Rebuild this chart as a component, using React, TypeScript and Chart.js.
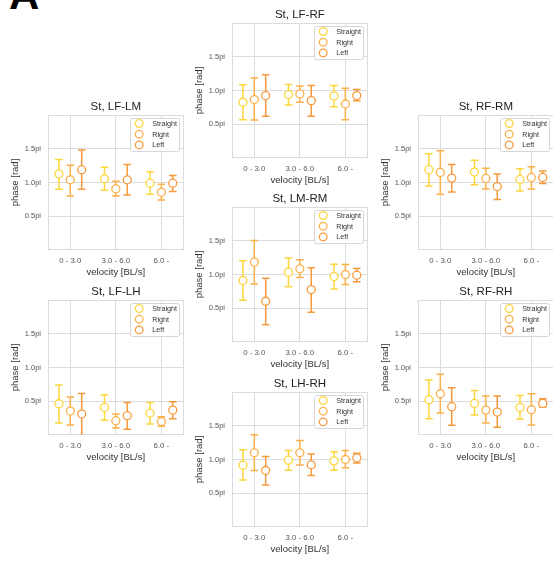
import React, { useEffect, useRef } from "react";
import { Chart, registerables } from "chart.js";

Chart.register(...registerables);

const CATEGORIES = ["0 - 3.0", "3.0 - 6.0", "6.0 -"];
const SERIES = ["Straight", "Right", "Left"];
const COLORS = ["#fdd63c", "#fcb04a", "#f79a3e"];
const Y_TICKS = [0.5, 1.0, 1.5];
const Y_TICK_LABELS = ["0.5pi", "1.0pi", "1.5pi"];
const DODGE = [-0.25, 0, 0.25];

// rows: Straight, Right, Left ; columns: velocity categories (units of pi)
const LF_LM_MEAN = [[1.125, 1.055, 0.99], [1.04, 0.905, 0.855], [1.19, 1.04, 0.99]];
const LF_LM_LO = [[0.9, 0.885, 0.825], [0.8, 0.8, 0.74], [0.9, 0.815, 0.865]];
const LF_LM_HI = [[1.34, 1.225, 1.16], [1.255, 1.02, 0.975], [1.48, 1.265, 1.105]];

const LF_RF_MEAN = [[0.826, 0.94, 0.92], [0.866, 0.95, 0.8], [0.925, 0.85, 0.925]];
const LF_RF_LO = [[0.567, 0.786, 0.76], [0.562, 0.826, 0.567], [0.617, 0.617, 0.85]];
const LF_RF_HI = [[1.085, 1.09, 1.075], [1.184, 1.065, 1.035], [1.234, 1.075, 1.015]];

const RF_RM_MEAN = [[1.19, 1.155, 1.045], [1.15, 1.06, 1.075], [1.065, 0.94, 1.075]];
const RF_RM_LO = [[0.95, 0.965, 0.875], [0.825, 0.905, 0.905], [0.86, 0.75, 0.985]];
const RF_RM_HI = [[1.425, 1.33, 1.205], [1.47, 1.21, 1.235], [1.265, 1.125, 1.17]];

const LF_LH_MEAN = [[0.463, 0.409, 0.325], [0.355, 0.212, 0.2], [0.31, 0.286, 0.37]];
const LF_LH_LO = [[0.177, 0.217, 0.163], [0.148, 0.103, 0.128], [-0.05, 0.084, 0.241]];
const LF_LH_HI = [[0.739, 0.596, 0.483], [0.562, 0.31, 0.27], [0.616, 0.483, 0.493]];

const LM_RM_MEAN = [[0.911, 1.035, 0.97], [1.183, 1.084, 1.0], [0.604, 0.777, 0.99]];
const LM_RM_LO = [[0.619, 0.817, 0.787], [0.861, 0.955, 0.851], [0.257, 0.44, 0.891]];
const LM_RM_HI = [[1.203, 1.243, 1.153], [1.505, 1.218, 1.149], [0.946, 1.099, 1.089]];

const RF_RH_MEAN = [[0.522, 0.468, 0.409], [0.611, 0.369, 0.374], [0.419, 0.34, 0.468]];
const RF_RH_LO = [[0.241, 0.296, 0.236], [0.325, 0.177, 0.148], [0.143, 0.113, 0.414]];
const RF_RH_HI = [[0.813, 0.66, 0.586], [0.9, 0.576, 0.61], [0.7, 0.576, 0.537]];

const LH_RH_MEAN = [[0.916, 0.99, 0.98], [1.099, 1.099, 1.0], [0.837, 0.921, 1.025]];
const LH_RH_LO = [[0.698, 0.842, 0.842], [0.837, 0.92, 0.876], [0.624, 0.762, 0.95]];
const LH_RH_HI = [[1.144, 1.134, 1.114], [1.366, 1.282, 1.134], [1.045, 1.08, 1.094]];

const PANELS = [
  { title: "St, LF-LM", mean: LF_LM_MEAN, lo: LF_LM_LO, hi: LF_LM_HI, left: 48, top: 115 },
  { title: "St, LF-RF", mean: LF_RF_MEAN, lo: LF_RF_LO, hi: LF_RF_HI, left: 232, top: 23 },
  { title: "St, RF-RM", mean: RF_RM_MEAN, lo: RF_RM_LO, hi: RF_RM_HI, left: 418, top: 115 },
  { title: "St, LF-LH", mean: LF_LH_MEAN, lo: LF_LH_LO, hi: LF_LH_HI, left: 48, top: 300 },
  { title: "St, LM-RM", mean: LM_RM_MEAN, lo: LM_RM_LO, hi: LM_RM_HI, left: 232, top: 207 },
  { title: "St, RF-RH", mean: RF_RH_MEAN, lo: RF_RH_LO, hi: RF_RH_HI, left: 418, top: 300 },
  { title: "St, LH-RH", mean: LH_RH_MEAN, lo: LH_RH_LO, hi: LH_RH_HI, left: 232, top: 392 },
];

const FONT = "'Liberation Sans', Arial, sans-serif";
const PLOT_W = 137;
const PLOT_H = 135;
const AX_W = 48;
const TITLE_H = 24;
const XAX_H = 34;
const RIGHT_PAD = 4;
const GRID = "#dcdcdc";

const errorBarPlugin = {
  id: "errorBars",
  beforeDatasetsDraw(chart: any) {
    const { ctx, chartArea, scales } = chart;
    const xs = scales.x;
    const ys = scales.y;
    ctx.save();
    ctx.beginPath();
    ctx.rect(chartArea.left, chartArea.top, chartArea.right - chartArea.left, chartArea.bottom - chartArea.top);
    ctx.clip();
    chart.data.datasets.forEach((ds: any) => {
      ctx.strokeStyle = ds.borderColor;
      ctx.lineWidth = 1.5;
      ds.data.forEach((d: any) => {
        const px = xs.getPixelForValue(d.x);
        const plo = ys.getPixelForValue(d.lo);
        const phi = ys.getPixelForValue(d.hi);
        ctx.beginPath();
        ctx.moveTo(px, plo);
        ctx.lineTo(px, phi);
        ctx.moveTo(px - 3.8, plo);
        ctx.lineTo(px + 3.8, plo);
        ctx.moveTo(px - 3.8, phi);
        ctx.lineTo(px + 3.8, phi);
        ctx.stroke();
      });
    });
    ctx.restore();
  },
};

const framePlugin = {
  id: "frame",
  beforeDatasetsDraw(chart: any) {
    const { ctx, chartArea } = chart;
    ctx.save();
    ctx.strokeStyle = GRID;
    ctx.lineWidth = 1;
    ctx.strokeRect(
      Math.round(chartArea.left) + 0.5,
      Math.round(chartArea.top) + 0.5,
      Math.round(chartArea.right - chartArea.left) - 1,
      Math.round(chartArea.bottom - chartArea.top) - 1
    );
    ctx.restore();
  },
};

const legendPlugin = {
  id: "innerLegend",
  afterDatasetsDraw(chart: any) {
    const { ctx, chartArea } = chart;
    const w = 49;
    const h = 33;
    const bx = chartArea.right - 4.5 - w;
    const by = chartArea.top + 3;
    ctx.save();
    ctx.fillStyle = "rgba(255,255,255,0.85)";
    ctx.strokeStyle = "#d6d6d6";
    ctx.lineWidth = 1;
    ctx.beginPath();
    ctx.roundRect(Math.round(bx) + 0.5, Math.round(by) + 0.5, w, h, 2);
    ctx.fill();
    ctx.stroke();
    ctx.font = `7.2px ${FONT}`;
    ctx.textBaseline = "middle";
    ctx.textAlign = "left";
    chart.data.datasets.forEach((ds: any, i: number) => {
      const cy = by + 5.5 + i * 10.7;
      ctx.beginPath();
      ctx.arc(bx + 9, cy, 3.8, 0, Math.PI * 2);
      ctx.fillStyle = "#ffffff";
      ctx.fill();
      ctx.strokeStyle = ds.borderColor;
      ctx.lineWidth = 1.3;
      ctx.stroke();
      ctx.fillStyle = "#333333";
      ctx.fillText(ds.label, bx + 22, cy + 0.5);
    });
    ctx.restore();
  },
};

function Panel({ p }: { p: any }) {
  const ref = useRef<HTMLCanvasElement>(null);
  useEffect(() => {
    const datasets = SERIES.map((name, s) => ({
      label: name,
      data: CATEGORIES.map((_, c) => ({
        x: c + DODGE[s],
        y: p.mean[s][c],
        lo: p.lo[s][c],
        hi: p.hi[s][c],
      })),
      borderColor: COLORS[s],
      backgroundColor: "#ffffff",
      pointBackgroundColor: "#ffffff",
      pointBorderColor: COLORS[s],
      pointRadius: 4,
      pointHoverRadius: 4,
      pointBorderWidth: 1.3,
      showLine: false,
    }));
    const chart = new Chart(ref.current as HTMLCanvasElement, {
      type: "scatter",
      data: { datasets } as any,
      options: {
        animation: false,
        responsive: false,
        devicePixelRatio: 1,
        events: [],
        layout: { padding: { left: 0, right: RIGHT_PAD, top: 0, bottom: 0 } },
        plugins: {
          legend: { display: false },
          tooltip: { enabled: false },
          title: {
            display: true,
            fullSize: false,
            text: p.title,
            color: "#222222",
            font: { family: FONT, size: 11.5, weight: "normal", lineHeight: 1.2 },
            padding: { top: 9.1, bottom: 1.1 },
          },
        },
        scales: {
          x: {
            type: "linear",
            min: -0.49,
            max: 2.49,
            afterBuildTicks: (s: any) => {
              s.ticks = CATEGORIES.map((_, i) => ({ value: i }));
            },
            afterFit: (s: any) => {
              s.height = XAX_H;
            },
            ticks: {
              callback: (_v: any, i: number) => CATEGORIES[i],
              color: "#555555",
              font: { family: FONT, size: 7.8 },
              padding: 6,
              maxRotation: 0,
              autoSkip: false,
            },
            grid: { color: GRID, lineWidth: 1, drawTicks: false },
            border: { display: false },
            title: {
              display: true,
              text: "velocity [BL/s]",
              color: "#333333",
              font: { family: FONT, size: 9.5, lineHeight: 1.2 },
              padding: { top: 0, bottom: 5.6 },
            },
          },
          y: {
            type: "linear",
            min: 0,
            max: 2,
            afterBuildTicks: (s: any) => {
              s.ticks = Y_TICKS.map((v) => ({ value: v }));
            },
            afterFit: (s: any) => {
              s.width = AX_W;
            },
            ticks: {
              callback: (_v: any, i: number) => Y_TICK_LABELS[i],
              color: "#555555",
              font: { family: FONT, size: 7.5 },
              padding: 7,
              autoSkip: false,
            },
            grid: { color: GRID, lineWidth: 1, drawTicks: false },
            border: { display: false },
            title: {
              display: true,
              text: "phase [rad]",
              color: "#333333",
              font: { family: FONT, size: 9.5, lineHeight: 1.2 },
              padding: { top: 9.3, bottom: 0 },
            },
          },
        },
      } as any,
      plugins: [framePlugin, errorBarPlugin, legendPlugin],
    });
    return () => chart.destroy();
  }, [p]);

  const cw = AX_W + PLOT_W + RIGHT_PAD;
  const ch = TITLE_H + PLOT_H + XAX_H;
  return (
    <canvas
      ref={ref}
      width={cw}
      height={ch}
      style={{
        position: "absolute",
        left: p.left - AX_W,
        top: p.top - TITLE_H,
        width: cw,
        height: ch,
      }}
    />
  );
}

export default function App() {
  return (
    <div
      style={{
        position: "absolute",
        left: 0,
        top: 0,
        width: 553,
        height: 561,
        overflow: "hidden",
        background: "#ffffff",
      }}
    >
      <div
        style={{
          position: "absolute",
          left: 9,
          top: -26,
          fontFamily: FONT,
          fontWeight: "bold",
          fontSize: 42,
          lineHeight: "42px",
          color: "#000000",
        }}
      >
        A
      </div>
      {PANELS.map((p) => (
        <Panel key={p.title} p={p} />
      ))}
    </div>
  );
}
